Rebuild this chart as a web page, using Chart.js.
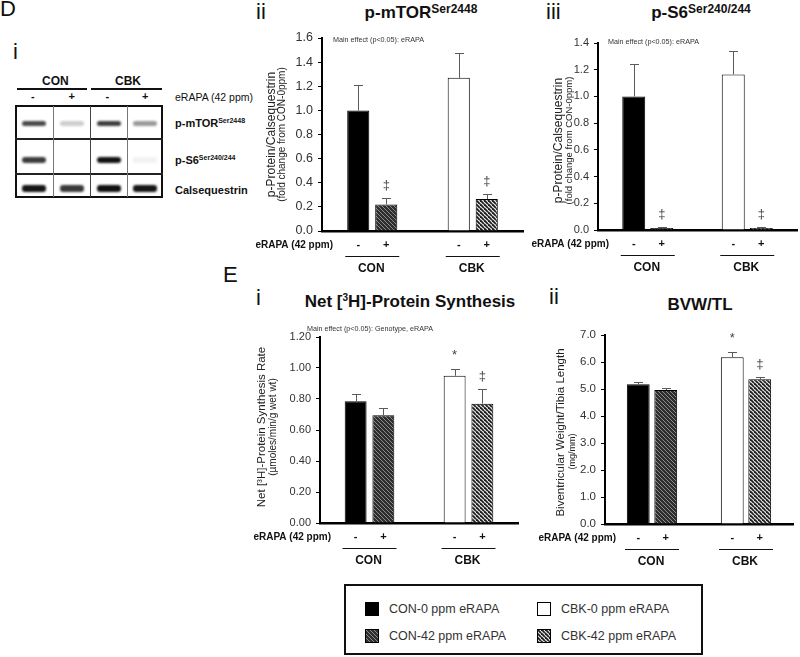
<!DOCTYPE html>
<html>
<head>
<meta charset="utf-8">
<script src="https://cdn.jsdelivr.net/npm/chart.js@4.4.1/dist/chart.umd.min.js"></script>
<style>
html,body{margin:0;padding:0;background:#fff;}
#root{position:relative;width:800px;height:657px;overflow:hidden;font-family:"Liberation Sans",Arial,sans-serif;color:#111;background:#fff;}
.abs{position:absolute;white-space:nowrap;}
canvas.chart{position:absolute;}
.ttl{position:absolute;font-weight:bold;font-size:17px;line-height:20px;transform:translateX(-50%);white-space:nowrap;color:#111;}
.ttl sup{font-size:12px;vertical-align:baseline;position:relative;top:-5px;}
.letter{position:absolute;font-size:22px;line-height:22px;color:#111;}
.blbl{position:absolute;font-weight:bold;font-size:11px;line-height:12px;white-space:nowrap;color:#111;}
.blbl sup{font-size:7px;vertical-align:baseline;position:relative;top:-4px;}
.band{position:absolute;border-radius:3px;filter:blur(1.1px);}
.vline{position:absolute;width:1px;background:#777;}
.hline{position:absolute;height:2px;background:#222;}
#legend{position:absolute;left:344px;top:584px;width:359px;height:71px;box-sizing:border-box;border:2px solid #111;}
#legend .sw{position:absolute;width:14px;height:14px;}
#legend .lt{position:absolute;font-size:12.5px;line-height:14px;color:#333;white-space:nowrap;}
</style>
</head>
<body>
<div id="root">
  <!-- panel letters -->
  <div class="letter" style="left:0px;top:-2px;">D</div>
  <div class="letter" style="left:13px;top:41px;">i</div>
  <div class="letter" style="left:256px;top:1px;">ii</div>
  <div class="letter" style="left:546px;top:1px;">iii</div>
  <div class="letter" style="left:223px;top:264px;">E</div>
  <div class="letter" style="left:256px;top:287px;">i</div>
  <div class="letter" style="left:549px;top:286px;">ii</div>

  <!-- blot (image panel) -->
  <div id="blot"></div>

  <!-- chart titles -->
  <div class="ttl" style="left:421px;top:3px;">p-mTOR<sup>Ser2448</sup></div>
  <div class="ttl" style="left:701px;top:3px;">p-S6<sup>Ser240/244</sup></div>
  <div class="ttl" style="left:410px;top:292px;">Net [<sup style="font-size:10px;top:-6px;">3</sup>H]-Protein Synthesis</div>
  <div class="ttl" style="left:700px;top:295px;">BVW/TL</div>

  <canvas class="chart" id="cMtor" width="290" height="260" style="left:240px;top:20px;"></canvas>
  <canvas class="chart" id="cS6" width="270" height="260" style="left:530px;top:20px;"></canvas>
  <canvas class="chart" id="cSyn" width="290" height="260" style="left:240px;top:315px;"></canvas>
  <canvas class="chart" id="cBvw" width="270" height="260" style="left:530px;top:315px;"></canvas>

  <div id="legend"></div>
</div>

<script>
// ---------------- DATA ----------------
const groups = ['CON', 'CBK'];
const seriesNames = ['CON-0 ppm eRAPA', 'CON-42 ppm eRAPA', 'CBK-0 ppm eRAPA', 'CBK-42 ppm eRAPA'];
const seriesGroup = [0, 0, 1, 1];
const eRapaSigns = ['-', '+', '-', '+'];
const eRapaLabel = 'eRAPA (42 ppm)';

// D ii : p-mTOR Ser2448
const mtorMean = [1.00, 0.22, 1.27, 0.265];
const mtorErr  = [0.21, 0.055, 0.205, 0.042];
const mtorSig  = ['', '‡', '', '‡'];
const mtorYTicks = [0.0, 0.2, 0.4, 0.6, 0.8, 1.0, 1.2, 1.4, 1.6];

// D iii : p-S6 Ser240/244
const s6Mean = [1.00, 0.015, 1.165, 0.015];
const s6Err  = [0.245, 0.01, 0.175, 0.008];
const s6Sig  = ['', '‡', '', '‡'];
const s6YTicks = [0.0, 0.2, 0.4, 0.6, 0.8, 1.0, 1.2, 1.4];

// E i : Net [3H]-Protein Synthesis
const synMean = [0.785, 0.695, 0.95, 0.77];
const synErr  = [0.045, 0.045, 0.045, 0.097];
const synSig  = ['', '', '*', '‡'];
const synYTicks = [0.0, 0.2, 0.4, 0.6, 0.8, 1.0, 1.2];

// E ii : BVW/TL
const bvwMean = [5.18, 4.96, 6.18, 5.36];
const bvwErr  = [0.07, 0.07, 0.20, 0.10];
const bvwSig  = ['', '', '*', '‡'];
const bvwYTicks = [0, 1, 2, 3, 4, 5, 6, 7];

// Western blot band intensities (image panel), rows x lanes
const blotRows = ['p-mTOR', 'p-S6', 'Calsequestrin'];
const blotBands = [
  ['#4a4a4a', '#cfcfcf', '#3f3f3f', '#9a9a9a'],
  ['#3c3c3c', null, '#121212', '#f2f2f2'],
  ['#141414', '#3a3a3a', '#101010', '#161616']
];

// ---------------- STYLE ----------------
const FONT = '"Liberation Sans", Arial, sans-serif';
Chart.defaults.font.family = FONT;

function hatch(bg, fg, p, lw) {
  const c = document.createElement('canvas'); c.width = p; c.height = p;
  const g = c.getContext('2d');
  g.fillStyle = bg; g.fillRect(0, 0, p, p);
  g.strokeStyle = fg; g.lineWidth = lw;
  for (let k = -1; k <= 1; k++) { g.beginPath(); g.moveTo(0, k * p); g.lineTo(p, p + k * p); g.stroke(); }
  return g.createPattern(c, 'repeat');
}
const fills = ['#000000', hatch('#2e2e2e', '#8c8c8c', 4, 1), '#ffffff', hatch('#ececec', '#1e1e1e', 4, 1.8)];

function makeAnnot(cfg) {
  return {
    id: 'annot',
    afterDatasetsDraw(chart) {
      const ctx = chart.ctx, y = chart.scales.y, x = chart.scales.x, a = chart.chartArea;
      ctx.save();
      chart.data.datasets.forEach((ds, i) => {
        const meta = chart.getDatasetMeta(i);
        ds.data.forEach((v, j) => {
          if (v == null) return;
          const bar = meta.data[j];
          const top = y.getPixelForValue(v);
          const et = Math.round(y.getPixelForValue(v + cfg.err[i]));
          const bx = Math.round(bar.x) + 0.5;
          ctx.strokeStyle = '#5a5a5a'; ctx.lineWidth = 1;
          ctx.beginPath();
          ctx.moveTo(bx, top); ctx.lineTo(bx, et);
          ctx.moveTo(bx - 4.5, et + 0.5); ctx.lineTo(bx + 4.5, et + 0.5);
          ctx.stroke();
          if (cfg.sig[i]) {
            ctx.fillStyle = '#444'; ctx.textAlign = 'center'; ctx.textBaseline = 'middle';
            ctx.font = '13px ' + FONT;
            ctx.fillText(cfg.sig[i], bar.x, et - (cfg.sig[i] === '*' ? 14 : 13));
          }
          ctx.fillStyle = '#111'; ctx.textAlign = 'center'; ctx.textBaseline = 'middle';
          ctx.font = 'bold 11px ' + FONT;
          ctx.fillText(eRapaSigns[i], bar.x, a.bottom + 14);
        });
      });
      // group underline + label
      x.getLabels().forEach((lab, gi) => {
        const cx = x.getPixelForTick(gi);
        ctx.strokeStyle = '#111'; ctx.lineWidth = 1;
        ctx.beginPath(); ctx.moveTo(cx - 27, a.bottom + 25.5); ctx.lineTo(cx + 27, a.bottom + 25.5); ctx.stroke();
        ctx.fillStyle = '#111'; ctx.font = 'bold 12px ' + FONT; ctx.textAlign = 'center'; ctx.textBaseline = 'middle';
        ctx.fillText(lab, cx - 1, a.bottom + 38);
      });
      // eRAPA row label
      ctx.fillStyle = '#111'; ctx.font = 'bold 10px ' + FONT; ctx.textAlign = 'right'; ctx.textBaseline = 'middle';
      ctx.fillText(eRapaLabel, a.left + 11, a.bottom + 14);
      // main effect note
      if (cfg.note) {
        ctx.fillStyle = '#333'; ctx.font = '7.2px ' + FONT; ctx.textAlign = cfg.note.align; ctx.textBaseline = 'middle';
        ctx.fillText(cfg.note.text, a.left + cfg.note.dx, a.top + cfg.note.dy);
      }
      // y-axis title (two lines)
      const cy = (a.top + a.bottom) / 2;
      ctx.fillStyle = '#222'; ctx.textAlign = 'center'; ctx.textBaseline = 'middle';
      cfg.yTitle.forEach((t, k) => {
        ctx.save();
        ctx.translate(a.left - cfg.yTitleOff[k], cy + cfg.yTitleDy[k]);
        ctx.rotate(-Math.PI / 2);
        ctx.font = cfg.yTitleSize[k] + 'px ' + FONT;
        ctx.fillText(t, 0, 0);
        ctx.restore();
      });
      ctx.restore();
    }
  };
}

function makeChart(id, cfg) {
  const datasets = seriesNames.map((name, k) => ({
    label: name,
    data: groups.map((g, gi) => gi === seriesGroup[k] ? cfg.mean[k] : null),
    backgroundColor: fills[k],
    borderColor: '#000', borderWidth: 1,
    skipNull: true,
    categoryPercentage: cfg.catPct, barPercentage: cfg.barPct
  }));
  const t = cfg.yTicks;
  return new Chart(document.getElementById(id), {
    type: 'bar',
    data: { labels: groups, datasets },
    options: {
      responsive: false, animation: false, devicePixelRatio: 1,
      layout: { padding: cfg.pad },
      plugins: { legend: { display: false }, tooltip: { enabled: false }, title: { display: false } },
      scales: {
        x: {
          grid: { display: false }, ticks: { display: false },
          border: { display: true, color: '#000', width: 2.5 },
          afterFit: s => { s.height = 0; }
        },
        y: {
          min: t[0], max: t[t.length - 1],
          afterBuildTicks: s => { s.ticks = t.map(v => ({ value: v })); },
          ticks: { callback: v => Number(v).toFixed(cfg.dec), color: '#333', font: { size: cfg.tickSize }, padding: 5, autoSkip: false },
          grid: { drawOnChartArea: false, drawTicks: true, tickLength: 4, color: '#000', lineWidth: 1 },
          border: { display: true, color: '#000', width: 2 },
          afterFit: s => { s.width = 40; }
        }
      }
    },
    plugins: [makeAnnot(cfg)]
  });
}

makeChart('cMtor', {
  mean: mtorMean, err: mtorErr, sig: mtorSig, yTicks: mtorYTicks, dec: 1, tickSize: 12.5,
  pad: { left: 42, top: 18, right: 7, bottom: 49 }, catPct: 0.557, barPct: 0.79,
  note: { text: 'Main effect (p<0.05): eRAPA', dx: 11, dy: 2, align: 'left' },
  yTitle: ['p-Protein/Calsequestrin', '(fold change from CON-0ppm)'], yTitleSize: [12, 10], yTitleOff: [50, 40], yTitleDy: [0, 0]
});
makeChart('cS6', {
  mean: s6Mean, err: s6Err, sig: s6Sig, yTicks: s6YTicks, dec: 1, tickSize: 11,
  pad: { left: 28, top: 23, right: 3, bottom: 50 }, catPct: 0.563, barPct: 0.82,
  note: { text: 'Main effect (p<0.05): eRAPA', dx: 10, dy: -1, align: 'left' },
  yTitle: ['p-Protein/Calsequestrin', '(fold change from CON-0ppm)'], yTitleSize: [12, 9.5], yTitleOff: [39, 29], yTitleDy: [4, 4]
});
makeChart('cSyn', {
  mean: synMean, err: synErr, sig: synSig, yTicks: synYTicks, dec: 2, tickSize: 11,
  pad: { left: 40, top: 22, right: 12, bottom: 52 }, catPct: 0.56, barPct: 0.79,
  note: { text: 'Main effect (p<0.05): Genotype, eRAPA', dx: 50, dy: -8, align: 'center' },
  yTitle: ['Net [³H]-Protein Synthesis Rate', '(µmoles/min/g wet wt)'], yTitleSize: [11.5, 10], yTitleOff: [58, 47], yTitleDy: [-3, -3]
});
makeChart('cBvw', {
  mean: bvwMean, err: bvwErr, sig: bvwSig, yTicks: bvwYTicks, dec: 1, tickSize: 11.5,
  pad: { left: 35, top: 20, right: 7, bottom: 51 }, catPct: 0.585, barPct: 0.83,
  note: null,
  yTitle: ['Biventricular Weight/Tibia Length', '(mg/mm)'], yTitleSize: [11.5, 9], yTitleOff: [44, 32], yTitleDy: [3, 22]
});

// ---------------- BLOT PANEL ----------------
(function () {
  const b = document.getElementById('blot');
  const add = (cls, style, html) => { const d = document.createElement('div'); d.className = cls; d.setAttribute('style', style); if (html) d.innerHTML = html; b.appendChild(d); return d; };
  add('blbl', 'left:42px;top:75px;font-size:12px;', 'CON');
  add('blbl', 'left:115px;top:75px;font-size:12px;', 'CBK');
  add('hline', 'left:17px;top:88px;width:70px;height:1.5px;background:#111;');
  add('hline', 'left:91px;top:88px;width:71px;height:1.5px;background:#111;');
  const laneX = [34, 71.5, 108.5, 145];
  laneX.forEach((lx, i) => add('blbl', 'left:' + (lx - 3) + 'px;top:90px;font-size:11px;', eRapaSigns[i]));
  add('blbl', 'left:175px;top:91px;font-weight:normal;font-size:10.5px;', eRapaLabel);
  add('abs', 'left:15px;top:105px;width:148px;height:93px;box-sizing:border-box;border:2px solid #111;');
  add('hline', 'left:15px;top:138px;width:148px;');
  add('hline', 'left:15px;top:173px;width:148px;');
  add('vline', 'left:53px;top:106px;height:91px;');
  add('vline', 'left:90px;top:106px;height:91px;background:#444;');
  add('vline', 'left:127px;top:106px;height:91px;');
  const rowY = [123, 160, 188];
  const rowH = [5, 6, 7];
  blotBands.forEach((row, r) => row.forEach((c, l) => {
    if (!c) return;
    add('band', 'left:' + (laneX[l] - 12) + 'px;top:' + (rowY[r] - rowH[r] / 2) + 'px;width:24px;height:' + rowH[r] + 'px;background:' + c + ';');
  }));
  add('blbl', 'left:175px;top:117px;', 'p-mTOR<sup>Ser2448</sup>');
  add('blbl', 'left:175px;top:154px;', 'p-S6<sup>Ser240/244</sup>');
  add('blbl', 'left:175px;top:184px;', blotRows[2]);
})();

// ---------------- LEGEND ----------------
(function () {
  const L = document.getElementById('legend');
  const pos = [[19, 16], [19, 43], [191, 16], [191, 43]];
  seriesNames.forEach((name, k) => {
    const [x, y] = pos[k];
    const c = document.createElement('canvas'); c.width = 14; c.height = 14; c.className = 'sw';
    c.style.left = x + 'px'; c.style.top = y + 'px';
    const g = c.getContext('2d');
    g.fillStyle = fills[k]; g.fillRect(0, 0, 14, 14);
    g.strokeStyle = '#000'; g.lineWidth = 1; g.strokeRect(0.5, 0.5, 13, 13);
    L.appendChild(c);
    const t = document.createElement('div'); t.className = 'lt';
    t.style.left = (x + 24) + 'px'; t.style.top = (y) + 'px';
    t.textContent = name; L.appendChild(t);
  });
})();
</script>
</body>
</html>
